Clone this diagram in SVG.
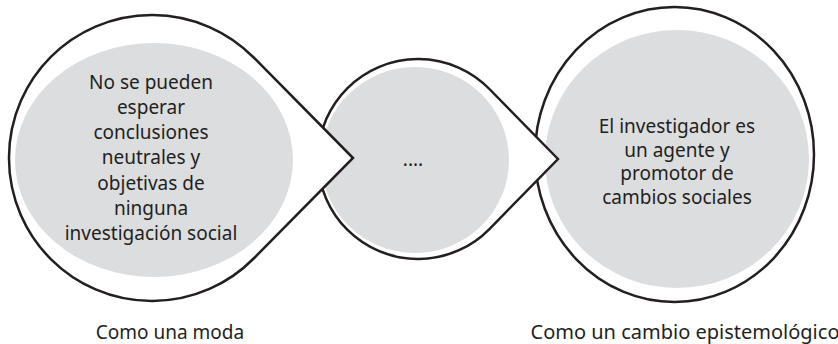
<svg xmlns="http://www.w3.org/2000/svg" width="838" height="344" viewBox="0 0 838 344">
<style>
.outline{fill:#ffffff;stroke:#231f20;stroke-width:2.5;stroke-linejoin:miter}
.inner{fill:#dcdddf}
.t{font-family:"Noto Sans","Open Sans","DejaVu Sans",sans-serif;font-size:19px;fill:#231f20;text-anchor:middle}
.lbl{font-family:"Noto Sans","Open Sans","DejaVu Sans",sans-serif;font-size:20px;fill:#231f20;text-anchor:middle}
</style>
<rect width="838" height="344" fill="#ffffff"/>
<g id="node-right">
<ellipse class="outline" cx="674.5" cy="154.5" rx="139.5" ry="147.5"/>
<ellipse class="inner" cx="677" cy="159" rx="132" ry="129"/>
<text class="t" x="677" y="133">El investigador es</text>
<text class="t" x="677" y="156.5">un agente y</text>
<text class="t" x="677" y="180">promotor de</text>
<text class="t" x="677" y="203.5">cambios sociales</text>
</g>
<g id="node-middle">
<path class="outline" d="M558,159 L489.4,89 A100,100 0 1 0 489.4,229 Z"/>
<ellipse class="inner" cx="415" cy="160" rx="94" ry="93"/>
<text class="t" x="413" y="166">....</text>
</g>
<g id="node-left">
<path class="outline" d="M353,158 L253.7,57.5 A143,143 0 1 0 253.7,258.5 Z"/>
<ellipse class="inner" cx="154" cy="160" rx="139" ry="117"/>
<text class="t" x="151" y="89">No se pueden</text>
<text class="t" x="151" y="114">esperar</text>
<text class="t" x="151" y="139">conclusiones</text>
<text class="t" x="151" y="164">neutrales y</text>
<text class="t" x="151" y="189.5">objetivas de</text>
<text class="t" x="151" y="214.5">ninguna</text>
<text class="t" x="151" y="240">investigación social</text>
</g>
<g id="labels">
<text class="lbl" x="170" y="339" style="font-size:19px">Como una moda</text>
<text class="lbl" x="685" y="339">Como un cambio epistemológico</text>
</g>
<g id="connectors"></g>
</svg>
